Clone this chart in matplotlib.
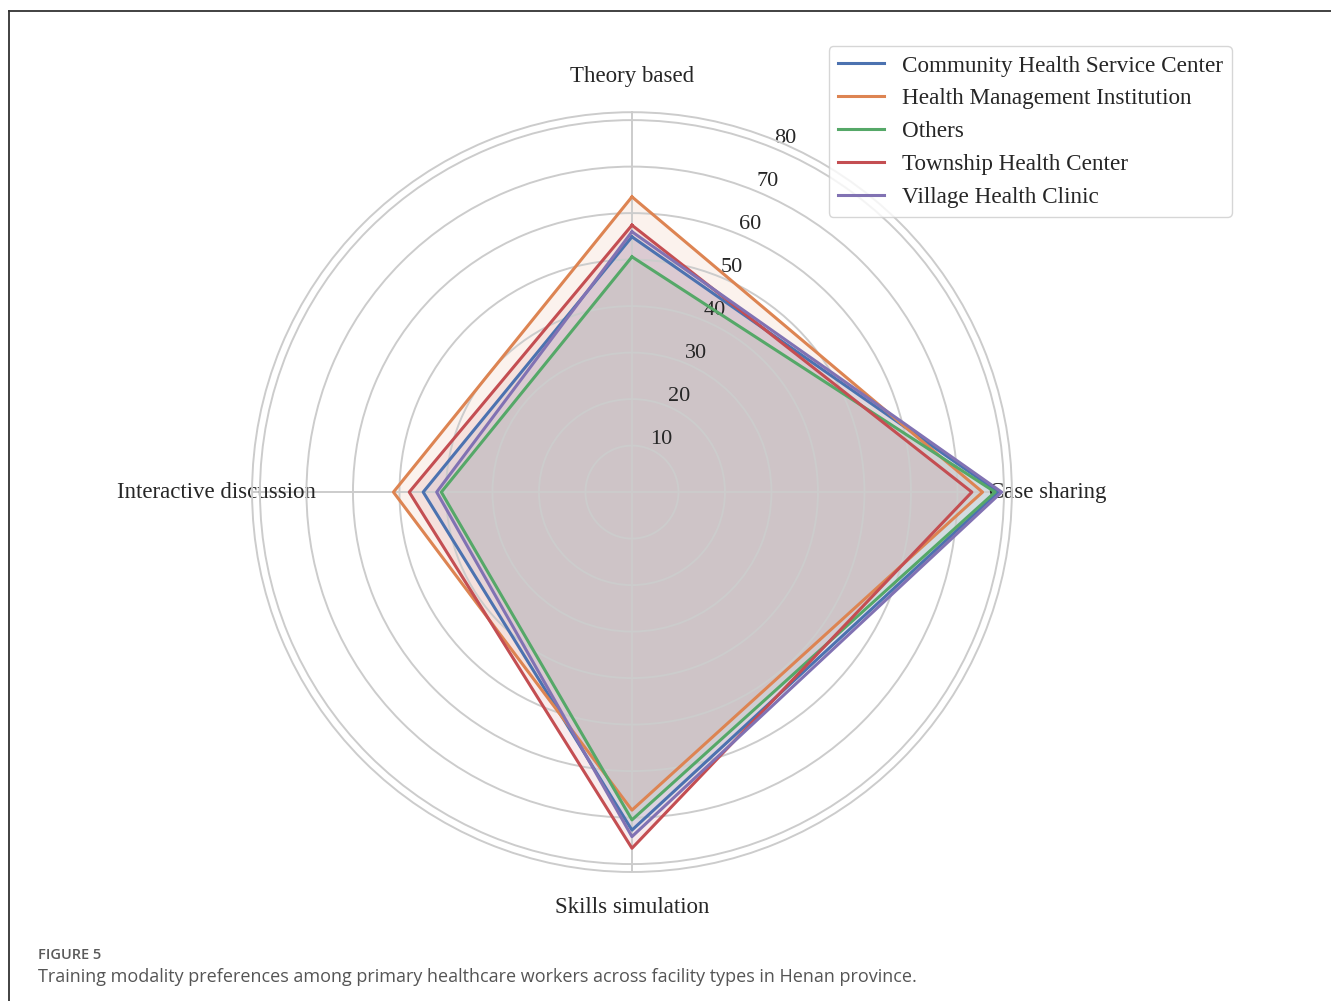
import numpy as np
import matplotlib.pyplot as plt
from matplotlib.lines import Line2D

# training modality preference scores (%) by facility type
categories = ['Theory based', 'Case sharing', 'Skills simulation', 'Interactive discussion']
community_center = [54.9, 78.8, 72.7, 44.9]
health_management = [63.5, 75.4, 68.4, 51.3]
others = [50.6, 78.1, 70.5, 41.0]
township_center = [57.4, 73.1, 76.6, 47.9]
village_clinic = [56.0, 79.5, 74.1, 42.0]

series_names = ['Community Health Service Center', 'Health Management Institution',
                'Others', 'Township Health Center', 'Village Health Clinic']
series_values = [community_center, health_management, others, township_center, village_clinic]
colors = ['#4C72B0', '#DD8452', '#55A868', '#C44E52', '#8172B3']
r_ticks = [10, 20, 30, 40, 50, 60, 70, 80]

plt.rcParams['font.family'] = ['Liberation Serif', 'DejaVu Serif']
plt.rcParams['text.color'] = '#262626'

fig = plt.figure(figsize=(13.31, 10.01), dpi=100)
ax = fig.add_axes([0.1893, 0.1289, 0.571, 0.759], projection='polar')
ax.set_theta_offset(np.pi / 2)
ax.set_theta_direction(-1)

angles = np.linspace(0, 2 * np.pi, len(categories), endpoint=False)
closed = np.concatenate([angles, angles[:1]])

for name, vals, c in zip(series_names, series_values, colors):
    v = vals + vals[:1]
    ax.plot(closed, v, color=c, linewidth=2.2, label=name)
    ax.fill(closed, v, color=c, alpha=0.1)

ax.set_xticks(angles)
ax.set_xticklabels(categories, fontsize=16.5, color='#262626')
ax.tick_params(axis='x', pad=15)
ax.set_yticks(r_ticks)
ax.set_yticklabels([str(t) for t in r_ticks], fontsize=16, color='#262626')
ax.set_rlabel_position(22.5)
ax.set_ylim(0, 81.7)

ax.grid(True, color='#cccccc', linewidth=1.4)
ax.spines['polar'].set_color('#cccccc')
ax.spines['polar'].set_linewidth(1.4)
ax.set_facecolor('white')

leg = ax.legend(loc='upper right', bbox_to_anchor=(1232 / 1331, 1 - 46 / 1001),
                bbox_transform=fig.transFigure, fontsize=16.7, frameon=True,
                borderaxespad=0, handlelength=2.0, handletextpad=0.75,
                labelspacing=0.5, borderpad=0.4)
leg.get_frame().set_edgecolor('#cccccc')

# journal frame and caption
fig.add_artist(Line2D([9 / 1331, 9 / 1331], [0, 1 - 10.5 / 1001], transform=fig.transFigure,
                      color='#333333', linewidth=1.3))
fig.add_artist(Line2D([9 / 1331, 1], [1 - 10.5 / 1001, 1 - 10.5 / 1001], transform=fig.transFigure,
                      color='#333333', linewidth=1.3))
fig.text(38 / 1331, 1 - 955 / 1001, 'FIGURE 5', family='Open Sans', fontsize=10.5,
         fontweight='semibold', color='#5a5a5a', va='center', ha='left')
fig.text(38 / 1331, 1 - 977 / 1001,
         'Training modality preferences among primary healthcare workers across facility types in Henan province.',
         family='Open Sans', fontsize=13, color='#555555', va='center', ha='left')

fig.savefig('out.png', dpi=100)
